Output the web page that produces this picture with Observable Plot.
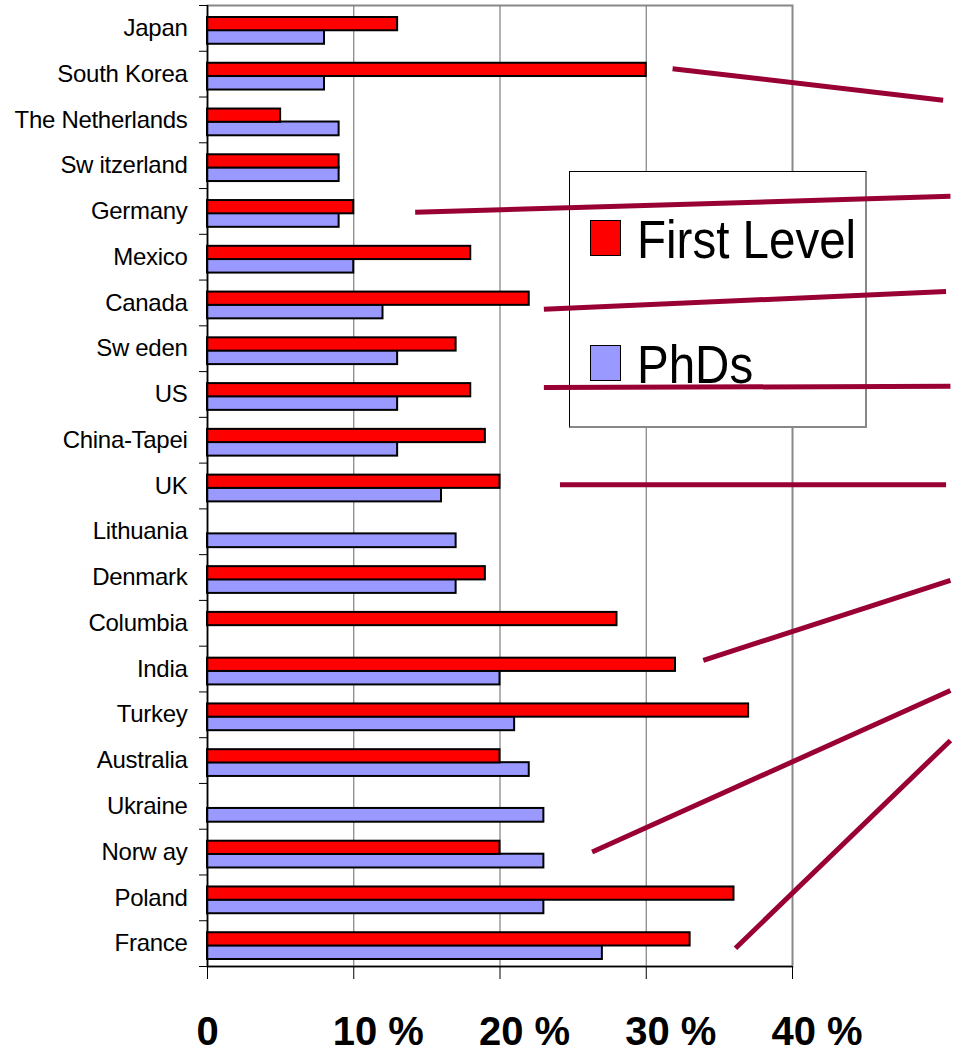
<!DOCTYPE html>
<html>
<head>
<meta charset="utf-8">
<script src="https://cdn.jsdelivr.net/npm/d3@7"></script>
<script src="https://cdn.jsdelivr.net/npm/@observablehq/plot@0.6"></script>
<style>
  html, body { margin: 0; padding: 0; background: #fff; }
  #wrap { position: relative; width: 953px; height: 1056px; font-family: "Liberation Sans", Arial, sans-serif; }
  #wrap svg { position: absolute; left: 0; top: 0; }
  #wrap svg g[aria-label="y-axis tick label"] text { letter-spacing: -0.3px; }
  #legend { position: absolute; left: 569px; top: 171px; width: 295px; height: 254px; background: #fff;
            border-left: 1px solid #000; border-top: 1px solid #000; border-right: 2px solid #888; border-bottom: 2px solid #888; }
  .sw { position: absolute; left: 20px; width: 29px; height: 34px; border: 1.5px solid #000; }
  .lt { position: absolute; left: 67px; font-size: 54px; line-height: 54px; white-space: nowrap; transform: scaleX(0.88); transform-origin: left center; color: #000; }
</style>
</head>
<body>
<div id="wrap"></div>
<script>
// ---- data ----
const countries = ["Japan","South Korea","The Netherlands","Sw itzerland","Germany","Mexico","Canada","Sw eden","US","China-Tapei","UK","Lithuania","Denmark","Columbia","India","Turkey","Australia","Ukraine","Norw ay","Poland","France"];
const firstLevel = [13,30,5,9,10,18,22,17,18,19,20,null,19,28,32,37,20,null,20,36,33];
const phds       = [8,8,9,9,9,10,12,13,13,13,16,17,17,null,20,21,22,23,23,23,27];
const seriesNames = ["First Level","PhDs"];
const seriesColors = ["#ff0000","#9999ff"];
const xTicks = [0,10,20,30,40];
// decorative annotation lines (x in %, y in row position)
const lineX1 = [31.8,14.2,23.0,23.0,24.1,33.9,26.3,36.1];
const lineY1 = [0.88,4.02,6.14,7.85,9.97,13.81,18.0,20.1];
const lineX2 = [50.3,50.8,50.5,50.8,50.5,50.8,50.8,50.8];
const lineY2 = [1.57,3.67,5.75,7.82,9.97,12.06,14.47,15.56];

const rows = countries.map((c,i)=>({country:c, i, first:firstLevel[i], phd:phds[i]}));
const links = lineX1.map((x,i)=>({x1:x, y1:lineY1[i], x2:lineX2[i], y2:lineY2[i]}));

const common = {
  width: 953, height: 1056,
  marginLeft: 207, marginRight: 161, marginTop: 5, marginBottom: 90,
  style: {fontFamily: "'Liberation Sans', Arial, sans-serif", background: "transparent", overflow: "visible"}
};

const base = Plot.plot({
  ...common,
  x: {domain: [0,40], axis: null},
  y: {domain: [-0.5, 20.5], reverse: true, axis: null},
  marks: [
    Plot.frame({stroke: "#888", strokeWidth: 2}),
    Plot.ruleX([10,20,30], {stroke: "#808080", strokeWidth: 1.2}),
    Plot.rectX(rows.filter(d=>d.phd!=null), {x: "phd", y1: d=>d.i-0.5, y2: d=>d.i+0.5, insetTop: 25, insetBottom: 7,
      fill: seriesColors[1], stroke: "#000", strokeWidth: 2}),
    Plot.rectX(rows.filter(d=>d.first!=null), {x: "first", y1: d=>d.i-0.5, y2: d=>d.i+0.5, insetTop: 12, insetBottom: 20.5,
      fill: seriesColors[0], stroke: "#000", strokeWidth: 2}),
    Plot.ruleX([0], {stroke: "#000", strokeWidth: 1.5}),
    Plot.ruleY([20.5], {stroke: "#000", strokeWidth: 1.5}),
    Plot.axisY({ticks: d3.range(-0.5, 21, 1), tickSize: 8, tickFormat: () => "", label: null, stroke: "#000"}),
    Plot.axisY({ticks: d3.range(countries.length), tickSize: 0, tickPadding: 20, tickFormat: i => countries[i],
      label: null, fontSize: 24, fill: "#000"}),
    Plot.axisX({ticks: xTicks, tickSize: 13, tickFormat: () => "", label: null, stroke: "#000"}),
    Plot.text(xTicks.filter(d=>d===0), {x: d=>d, frameAnchor: "bottom", lineAnchor: "top", dy: 50,
      text: d=>String(d), fontSize: 40, fontWeight: "bold", textAnchor: "middle", fill: "#000"}),
    Plot.text(xTicks.filter(d=>d!==0), {x: d=>d, frameAnchor: "bottom", lineAnchor: "top", dy: 50, dx: -21,
      text: d=>`${d} %`, fontSize: 40, fontWeight: "bold", textAnchor: "start", fill: "#000"})
  ]
});

const overlay = Plot.plot({
  ...common,
  x: {domain: [0,40], axis: null},
  y: {domain: [-0.5, 20.5], reverse: true, axis: null},
  marks: [
    Plot.link(links, {x1: "x1", y1: "y1", x2: "x2", y2: "y2", stroke: "#990033", strokeWidth: 5, clip: false})
  ]
});
overlay.style.pointerEvents = "none";

const wrap = document.getElementById("wrap");
wrap.appendChild(base);

const legend = document.createElement("div");
legend.id = "legend";
const swTops = [48, 173];
const txtTops = [40, 165];
seriesNames.forEach((name, k) => {
  const sw = document.createElement("div");
  sw.className = "sw";
  sw.style.top = swTops[k] + "px";
  sw.style.background = seriesColors[k];
  legend.appendChild(sw);
  const t = document.createElement("div");
  t.className = "lt";
  t.style.top = txtTops[k] + "px";
  t.textContent = name;
  legend.appendChild(t);
});
wrap.appendChild(legend);
wrap.appendChild(overlay);
</script>
</body>
</html>
